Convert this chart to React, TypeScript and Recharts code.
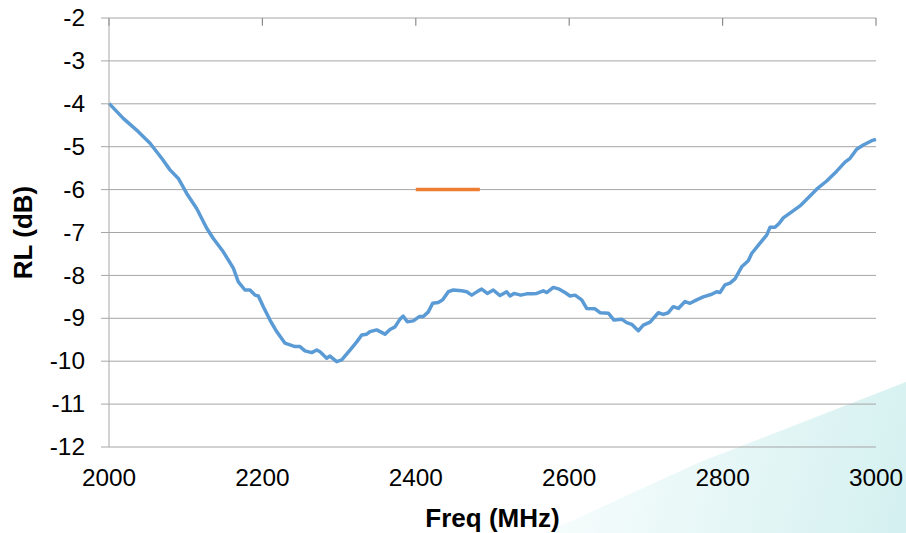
import React from 'react';
import { LineChart, Line, XAxis, YAxis, CartesianGrid, ReferenceLine } from 'recharts';

const freqs = [
  2000, 2018.6, 2038.2, 2053.5, 2068.7, 2079.5, 2090.4, 2101.3, 2114.3, 2127.4,
  2136.0, 2149.0, 2162.1, 2168.6, 2177.3, 2183.8, 2190.4, 2194.7, 2201.2, 2209.9,
  2218.6, 2229.5, 2236.0, 2242.5, 2249.0, 2255.5, 2264.3, 2270.8, 2275.1, 2283.8,
  2288.1, 2296.9, 2303.4, 2314.2, 2323.0, 2329.5, 2336.0, 2340.3, 2349.0, 2359.8,
  2366.4, 2372.9, 2379.4, 2383.7, 2388.9, 2396.7, 2404.6, 2409.8, 2416.3, 2422.0,
  2429.3, 2435.1, 2442.4, 2448.9, 2459.8, 2466.4, 2472.9, 2481.5, 2485.9, 2493.2,
  2501.0, 2509.8, 2518.5, 2522.8, 2528.0, 2536.8, 2544.6, 2551.1, 2557.6, 2566.2,
  2570.6, 2579.3, 2587.1, 2594.5, 2601.1, 2607.6, 2616.3, 2622.8, 2633.6, 2640.2,
  2651.0, 2658.4, 2668.4, 2675.0, 2681.5, 2690.1, 2696.6, 2705.4, 2716.2, 2722.7,
  2729.2, 2735.7, 2742.3, 2751.0, 2757.5, 2766.2, 2774.8, 2785.8, 2792.3, 2796.6,
  2803.1, 2809.6, 2816.2, 2824.9, 2833.5, 2837.9, 2848.8, 2857.5, 2861.8, 2868.3,
  2873.6, 2879.1, 2890.1, 2900.9, 2911.7, 2922.7, 2935.7, 2948.8, 2959.6, 2966.2,
  2974.8, 2983.4, 2994.4, 3000,
];

const returnLoss = [
  -3.99, -4.34, -4.65, -4.92, -5.27, -5.54, -5.74, -6.09, -6.44, -6.90,
  -7.14, -7.45, -7.83, -8.15, -8.34, -8.34, -8.46, -8.48, -8.73, -9.04,
  -9.31, -9.58, -9.62, -9.66, -9.66, -9.76, -9.80, -9.74, -9.78, -9.93,
  -9.88, -10.01, -9.97, -9.74, -9.55, -9.39, -9.37, -9.31, -9.27, -9.37,
  -9.26, -9.20, -9.02, -8.95, -9.08, -9.06, -8.96, -8.96, -8.85, -8.65,
  -8.63, -8.57, -8.38, -8.34, -8.36, -8.38, -8.46, -8.36, -8.32, -8.42,
  -8.34, -8.47, -8.38, -8.48, -8.42, -8.46, -8.43, -8.43, -8.42, -8.36,
  -8.40, -8.28, -8.32, -8.40, -8.48, -8.46, -8.57, -8.77, -8.78, -8.87,
  -8.88, -9.04, -9.02, -9.10, -9.14, -9.29, -9.16, -9.09, -8.87, -8.91,
  -8.87, -8.73, -8.77, -8.61, -8.65, -8.57, -8.50, -8.44, -8.38, -8.40,
  -8.22, -8.18, -8.08, -7.80, -7.66, -7.49, -7.25, -7.06, -6.88, -6.88,
  -6.79, -6.66, -6.52, -6.38, -6.19, -5.99, -5.80, -5.57, -5.36, -5.27,
  -5.06, -4.96, -4.86, -4.83,
];

const bandFreqs = [2400, 2483.5];
const bandLevel = [-6, -6];

const xTicks = [2000, 2200, 2400, 2600, 2800, 3000];
const yTicks = [-12, -11, -10, -9, -8, -7, -6, -5, -4, -3, -2];
const Y_MIN = -12;
const Y_MAX = -2;
const TOP_TICK_LEN = 0.18; // length of the inward tick marks on the top axis, in dB

const rlData = freqs.map((f, i) => ({ f, rl: returnLoss[i] }));
const bandData = bandFreqs.map((f, i) => ({ f, v: bandLevel[i] }));

const FONT = '"Liberation Sans", Arial, sans-serif';
const GRID = '#a6a6a6';
const TICK_FONT = 23;
const STRETCH = 1.06;

const XTick = (props: any) => {
  const { x, y, payload } = props;
  return (
    <text
      x={x}
      y={y}
      dy="0.71em"
      textAnchor="middle"
      fill="#000"
      fontSize={TICK_FONT}
      fontFamily={FONT}
      transform={`translate(${x},0) scale(${STRETCH},1) translate(${-x},0)`}
    >
      {payload.value}
    </text>
  );
};

const YTick = (props: any) => {
  const { x, y, payload } = props;
  return (
    <text
      x={x}
      y={y}
      dy="0.355em"
      textAnchor="end"
      fill="#000"
      fontSize={TICK_FONT}
      fontFamily={FONT}
      transform={`translate(${x},0) scale(${STRETCH},1) translate(${-x},0)`}
    >
      {payload.value}
    </text>
  );
};

export default function App() {
  return (
    <div style={{ position: 'absolute', left: 0, top: 0, width: 906, height: 533, background: '#fff', overflow: 'hidden' }}>
      <div
        style={{
          position: 'absolute',
          left: 0,
          top: 0,
          width: 906,
          height: 533,
          background: 'linear-gradient(105deg, rgba(255,255,255,0) 58%, #eaf8f8 78%, #d4f0f0 100%)',
          clipPath: 'polygon(545px 533px, 700px 462px, 906px 382px, 906px 533px)',
        }}
      />
      <div style={{ position: 'absolute', left: 0, top: 0 }}>
        <LineChart width={906} height={533} margin={{ top: 18, right: 30, bottom: 0, left: 0 }} style={{ fontFamily: FONT }}>
          <CartesianGrid horizontal vertical={false} stroke={GRID} strokeWidth={1} />
          <XAxis
            type="number"
            dataKey="f"
            domain={[2000, 3000]}
            ticks={xTicks}
            interval={0}
            height={86}
            axisLine={false}
            tickLine={false}
            tickSize={0}
            tickMargin={23}
            tick={XTick}
            label={{ value: 'Freq (MHz)', position: 'insideBottom', offset: 6, style: { fontWeight: 'bold', fontSize: 26, fill: '#000', fontFamily: FONT } }}
          />
          <YAxis
            type="number"
            domain={[Y_MIN, Y_MAX]}
            ticks={yTicks}
            width={109}
            interval={0}
            axisLine={{ stroke: GRID }}
            tickLine={{ stroke: GRID }}
            tickSize={8}
            tickMargin={16}
            tick={YTick}
            label={{ value: 'RL (dB)', angle: -90, position: 'insideLeft', offset: 23, style: { fontWeight: 'bold', fontSize: 26, fill: '#000', fontFamily: FONT, textAnchor: 'middle' } }}
          />
          {xTicks.map((t) => (
            <ReferenceLine
              key={`tt${t}`}
              segment={[
                { x: t, y: Y_MAX },
                { x: t, y: Y_MAX - TOP_TICK_LEN },
              ]}
              stroke="#8c8c8c"
              strokeWidth={1.2}
              ifOverflow="visible"
            />
          ))}
          <Line
            data={rlData}
            dataKey="rl"
            type="linear"
            stroke="#5b9bd5"
            strokeWidth={3.5}
            dot={false}
            strokeLinejoin="round"
            isAnimationActive={false}
          />
          <Line
            data={bandData}
            dataKey="v"
            type="linear"
            stroke="#ed7d31"
            strokeWidth={3.5}
            dot={false}
            isAnimationActive={false}
          />
        </LineChart>
      </div>
    </div>
  );
}
